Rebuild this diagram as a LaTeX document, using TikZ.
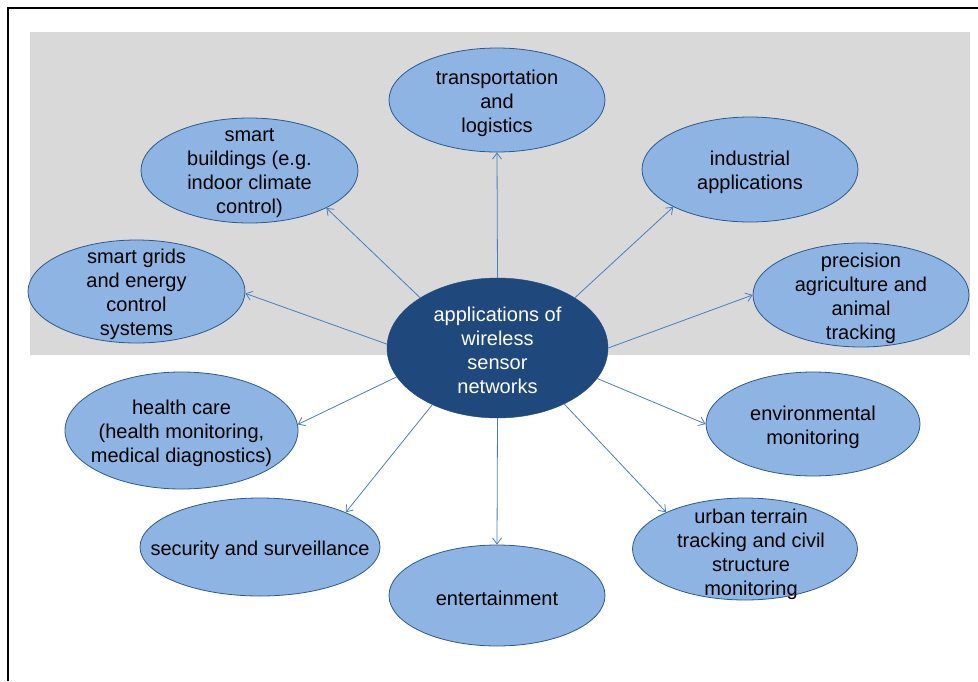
\documentclass[tikz,border=0pt]{standalone}
\usepackage{fontspec}
\setmainfont{Liberation Sans}
\usetikzlibrary{shapes.geometric,arrows.meta}

\definecolor{panelgray}{HTML}{D9D9D9}
\definecolor{appfill}{HTML}{8EB4E3}
\definecolor{appline}{HTML}{2C5A8C}
\definecolor{hubfill}{HTML}{1F497D}
\definecolor{linkblue}{HTML}{4A7EBB}

\tikzset{
  app/.style={ellipse, draw=appline, fill=appfill, line width=0.8pt, inner sep=0pt},
  hub/.style={ellipse, draw=hubfill, fill=hubfill, inner sep=0pt},
  apptxt/.style={align=center, text=black, yshift=-3pt, font=\fontsize{20}{24}\selectfont},
  hubtxt/.style={align=center, text=white, yshift=-2pt, font=\fontsize{20}{24}\selectfont},
  link/.style={draw=linkblue, line width=0.8pt, -{Straight Barb[length=6pt,width=9pt]}}
}

\begin{document}
\begin{tikzpicture}[x=1pt,y=-1pt]
\useasboundingbox (0,0) rectangle (978,681);
\fill[panelgray] (30,32) rectangle (970,355);
\draw[line width=2.4pt] (8,681) -- (8,8) -- (978,8);

% centre
\node[hub, minimum width=221pt, minimum height=140pt,
  label={[hubtxt]center:{applications of\\wireless\\sensor\\networks}}] (wsn) at (497.5,348) {};

% applications
\node[app, minimum width=216pt, minimum height=104pt,
  label={[apptxt]center:{transportation\\and\\logistics}}] (transport) at (497,100) {};
\node[app, minimum width=217pt, minimum height=105pt,
  label={[apptxt]center:{smart\\buildings (e.g.\\indoor climate\\control)}}] (buildings) at (249.5,170.5) {};
\node[app, minimum width=216pt, minimum height=105pt,
  label={[apptxt]center:{industrial\\applications}}] (industry) at (750,169.5) {};
\node[app, minimum width=217pt, minimum height=103pt,
  label={[apptxt]center:{smart grids\\and energy\\control\\systems}}] (grids) at (136.5,291.5) {};
\node[app, minimum width=216pt, minimum height=104pt,
  label={[apptxt]center:{precision\\agriculture and\\animal\\tracking}}] (agri) at (861,295) {};
\node[app, minimum width=233pt, minimum height=117pt,
  label={[apptxt]center:{health care\\(health monitoring,\\medical diagnostics)}}] (health) at (181.5,430.5) {};
\node[app, minimum width=214pt, minimum height=104pt,
  label={[apptxt]center:{environmental\\monitoring}}] (environ) at (813,424) {};
\node[app, minimum width=240pt, minimum height=98pt,
  label={[apptxt]center:{security and surveillance}}] (security) at (260,547) {};
\node[app, minimum width=216pt, minimum height=101pt,
  label={[apptxt]center:{entertainment}}] (enter) at (497,595.5) {};
\node[app, minimum width=225pt, minimum height=102pt,
  label={[apptxt, xshift=6pt, yshift=-2pt]center:{urban terrain\\tracking and civil\\structure\\monitoring}}] (urban) at (745,549) {};

% links
\draw[link] (wsn.90) -- (transport.-90);
\draw[link] (wsn.147) -- (buildings.-26);
\draw[link] (wsn.33) -- (industry.-154);
\draw[link] (wsn.178) -- (grids.-1);
\draw[link] (wsn.0) -- (agri.180);
\draw[link] (wsn.-164) -- (health.3);
\draw[link] (wsn.-17) -- (environ.180);
\draw[link] (wsn.-139) -- (security.22);
\draw[link] (wsn.-90) -- (enter.90);
\draw[link] (wsn.-40) -- (urban.155);
\end{tikzpicture}
\end{document}
